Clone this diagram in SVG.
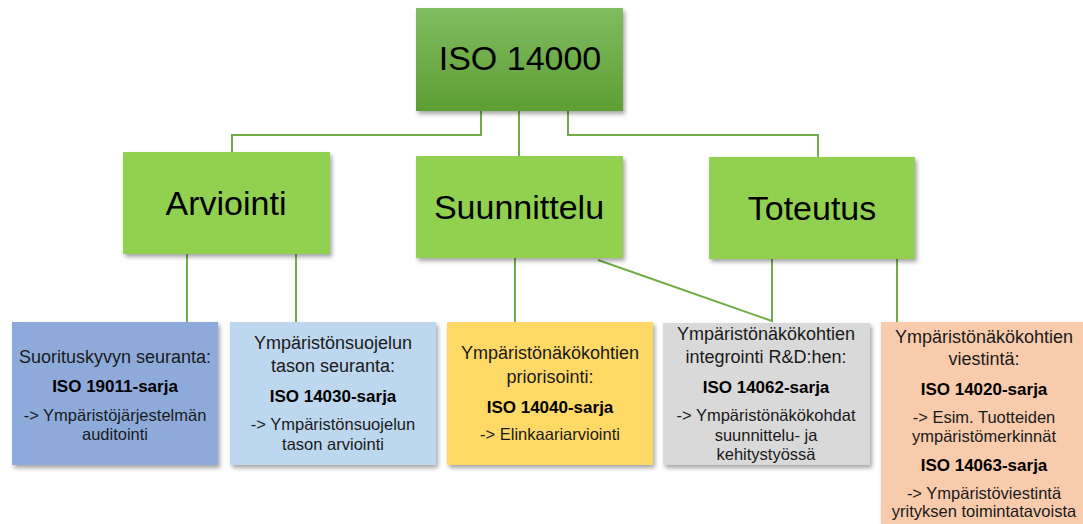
<svg xmlns="http://www.w3.org/2000/svg" width="1083" height="524" viewBox="0 0 1083 524">
<defs>
<linearGradient id="gTop" x1="0" y1="0" x2="0" y2="1">
<stop offset="0" stop-color="#80bc60"/>
<stop offset="1" stop-color="#5e9e34"/>
</linearGradient>
<filter id="sh" x="-10%" y="-10%" width="125%" height="130%">
<feDropShadow dx="2" dy="3" stdDeviation="2" flood-color="#000" flood-opacity="0.35"/>
</filter>
<style>
.b{filter:url(#sh)}
.g{fill:#92d050}
text{font-family:"Liberation Sans",Arial,sans-serif;fill:#000;text-anchor:middle;dominant-baseline:central}
.big{font-size:34px}
.m{font-size:18px;fill:#1a1a1a}
.k{font-size:17px;font-weight:bold}
.d{font-size:16.5px;fill:#1a1a1a}
.c{fill:none;stroke:#70ad47;stroke-width:2}
</style>
</defs>
<g id="connectors">
<polyline class="c" points="481,111 481,135 232,135 232,152"/>
<line class="c" x1="519" y1="111" x2="519" y2="156"/>
<polyline class="c" points="568,111 568,135 818,135 818,157"/>
<line class="c" x1="187" y1="254" x2="187" y2="322"/>
<line class="c" x1="296" y1="254" x2="296" y2="322"/>
<line class="c" x1="515" y1="258" x2="515" y2="322"/>
<polyline class="c" points="598,260 772,321 772,259"/>
<line class="c" x1="897" y1="259" x2="897" y2="322"/>
</g>
<g id="iso14000">
<rect class="b" x="416" y="8" width="207" height="103" fill="url(#gTop)"/>
<text class="big" x="520" y="58">ISO 14000</text>
</g>
<g id="arviointi">
<rect class="b g" x="123" y="152" width="207" height="102"/>
<text class="big" x="226" y="203">Arviointi</text>
</g>
<g id="suunnittelu">
<rect class="b g" x="416" y="156" width="207" height="102"/>
<text class="big" x="519" y="207">Suunnittelu</text>
</g>
<g id="toteutus">
<rect class="b g" x="709" y="157" width="206" height="102"/>
<text class="big" x="812" y="208">Toteutus</text>
</g>
<g id="suorituskyky">
<rect class="b" x="12" y="322" width="206" height="143" fill="#8eaadb"/>
<text class="m" x="115" y="357">Suorituskyvyn seuranta:</text>
<text class="k" x="115" y="386">ISO 19011-sarja</text>
<text class="d" x="115" y="415">-&gt; Ympäristöjärjestelmän</text>
<text class="d" x="115" y="434">auditointi</text>
</g>
<g id="suojelutaso">
<rect class="b" x="230" y="322" width="206" height="143" fill="#bdd7ee"/>
<text class="m" x="333" y="343">Ympäristönsuojelun</text>
<text class="m" x="333" y="366">tason seuranta:</text>
<text class="k" x="333" y="396">ISO 14030-sarja</text>
<text class="d" x="333" y="424">-&gt; Ympäristönsuojelun</text>
<text class="d" x="333" y="444">tason arviointi</text>
</g>
<g id="priorisointi">
<rect class="b" x="447" y="322" width="206" height="143" fill="#ffd966"/>
<text class="m" x="550" y="353">Ympäristönäkökohtien</text>
<text class="m" x="550" y="377">priorisointi:</text>
<text class="k" x="550" y="407">ISO 14040-sarja</text>
<text class="d" x="550" y="434">-&gt; Elinkaariarviointi</text>
</g>
<g id="integrointi">
<rect class="b" x="663" y="323" width="207" height="142" fill="#d9d9d9"/>
<text class="m" x="766" y="334">Ympäristönäkökohtien</text>
<text class="m" x="766" y="357">integrointi R&amp;D:hen:</text>
<text class="k" x="766" y="387">ISO 14062-sarja</text>
<text class="d" x="766" y="415">-&gt; Ympäristönäkökohdat</text>
<text class="d" x="766" y="435">suunnittelu- ja</text>
<text class="d" x="766" y="454">kehitystyössä</text>
</g>
<g id="viestinta">
<rect class="b" x="881" y="322" width="207" height="210" fill="#f8cbad"/>
<text class="m" x="984" y="337">Ympäristönäkökohtien</text>
<text class="m" x="984" y="359">viestintä:</text>
<text class="k" x="984" y="389">ISO 14020-sarja</text>
<text class="d" x="984" y="417">-&gt; Esim. Tuotteiden</text>
<text class="d" x="984" y="436">ympäristömerkinnät</text>
<text class="k" x="984" y="465">ISO 14063-sarja</text>
<text class="d" x="984" y="493">-&gt; Ympäristöviestintä</text>
<text class="d" x="984" y="511">yrityksen toimintatavoista</text>
</g>
</svg>
